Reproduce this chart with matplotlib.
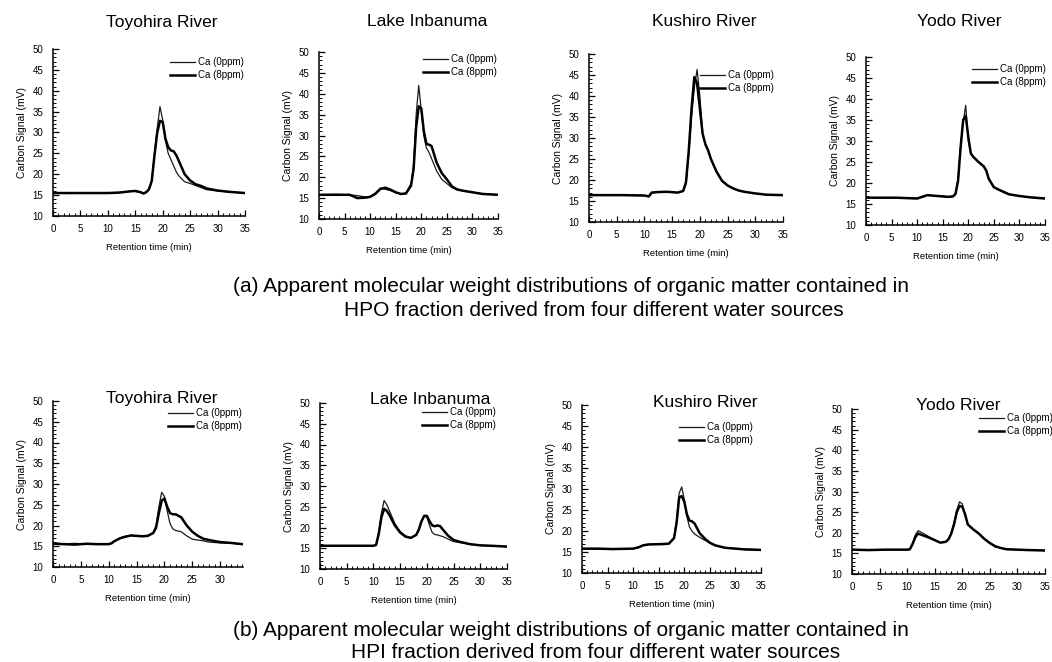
import matplotlib
matplotlib.use("Agg")
import matplotlib.pyplot as plt
from matplotlib.ticker import MultipleLocator

plt.rcParams['font.family'] = ['Liberation Sans', 'DejaVu Sans']

W, H = 1052, 662

# ---------------- data ----------------
titles = ["Toyohira River", "Lake Inbanuma", "Kushiro River", "Yodo River"]
series_labels = ["Ca (0ppm)", "Ca (8ppm)"]
caption_a = ["(a) Apparent molecular weight distributions of organic matter contained in",
             "HPO fraction derived from four different water sources"]
caption_b = ["(b) Apparent molecular weight distributions of organic matter contained in",
             "HPI fraction derived from four different water sources"]

# HPO - Toyohira
hpo_toy_x  = [0, 3, 6, 10, 12, 14, 15, 16, 16.5, 17, 17.5, 18, 18.5, 19, 19.5, 20, 20.5, 21, 21.5, 22, 22.5, 23, 24, 25, 26, 27, 28, 30, 32, 35]
hpo_toy_0  = [15.5, 15.4, 15.5, 15.5, 15.6, 15.9, 15.9, 15.6, 15.3, 15.8, 16.5, 18.6, 25.0, 31.0, 36.2, 33.0, 28.0, 25.0, 23.5, 22.0, 20.5, 19.5, 18.2, 17.8, 17.3, 16.8, 16.3, 16.0, 15.8, 15.5]
hpo_toy_8  = [15.5, 15.5, 15.5, 15.5, 15.6, 15.9, 16.0, 15.7, 15.4, 15.7, 16.4, 18.4, 24.5, 30.0, 32.8, 32.5, 28.5, 26.5, 25.7, 25.5, 24.5, 23.0, 20.0, 18.5, 17.6, 17.2, 16.6, 16.1, 15.8, 15.5]

# HPO - Lake Inbanuma
hpo_inb_x  = [0, 3, 6, 7.5, 9, 10, 11, 12, 13, 14, 15, 16, 17, 18, 18.5, 19, 19.5, 20, 20.5, 21, 21.5, 22, 22.5, 23, 24, 25, 26, 27, 28, 30, 32, 35]
hpo_inb_0  = [15.8, 15.9, 15.8, 15.6, 15.3, 15.4, 16.2, 17.4, 17.1, 16.8, 16.3, 16.0, 16.2, 18.5, 23.0, 35.0, 42.0, 36.0, 30.0, 27.0, 26.0, 24.5, 23.0, 21.5, 19.5, 18.5, 17.5, 17.0, 16.8, 16.4, 16.0, 15.8]
hpo_inb_8  = [15.8, 15.8, 15.8, 15.0, 15.1, 15.3, 16.0, 17.2, 17.5, 17.0, 16.4, 16.0, 16.1, 18.0, 22.0, 32.0, 37.0, 36.5, 31.0, 28.0, 27.8, 27.5, 25.5, 23.5, 21.0, 19.5, 17.8, 17.1, 16.8, 16.4, 16.0, 15.8]

# HPO - Kushiro
hpo_kus_x  = [0, 3, 6, 10, 10.8, 11.3, 12, 14, 16, 17, 17.5, 18, 18.5, 19, 19.5, 20, 20.5, 21, 21.5, 22, 23, 24, 25, 26, 27, 28, 30, 32, 35]
hpo_kus_0  = [16.4, 16.5, 16.4, 16.3, 16.0, 16.8, 17.0, 17.2, 17.0, 17.3, 19.0, 26.0, 35.0, 42.0, 46.3, 40.0, 31.0, 28.5, 27.0, 25.0, 22.0, 19.8, 18.7, 18.0, 17.5, 17.2, 16.8, 16.5, 16.4]
hpo_kus_8  = [16.4, 16.4, 16.4, 16.3, 16.1, 17.0, 17.1, 17.2, 17.0, 17.4, 19.5, 27.0, 37.0, 44.5, 43.0, 37.0, 31.0, 28.5, 27.0, 25.0, 22.0, 19.8, 18.7, 18.0, 17.5, 17.2, 16.8, 16.5, 16.4]

# HPO - Yodo
hpo_yod_x  = [0, 3, 6, 10, 11, 12, 13, 15, 16, 17, 17.5, 18, 18.5, 19, 19.5, 20, 20.5, 21, 22, 23, 23.5, 24, 25, 26, 27, 28, 30, 32, 35]
hpo_yod_0  = [16.5, 16.5, 16.4, 16.4, 16.8, 17.2, 17.0, 16.9, 16.7, 16.8, 17.5, 21.0, 29.0, 34.5, 38.5, 30.0, 27.0, 26.2, 25.0, 24.0, 23.0, 21.0, 19.0, 18.3, 18.0, 17.3, 16.9, 16.6, 16.4]
hpo_yod_8  = [16.5, 16.5, 16.5, 16.3, 16.7, 17.1, 17.0, 16.8, 16.7, 16.8, 17.4, 20.5, 28.5, 35.0, 36.0, 31.0, 27.0, 26.2, 25.0, 24.0, 23.0, 21.0, 19.0, 18.4, 17.8, 17.3, 16.9, 16.6, 16.3]

# HPI - Toyohira
hpi_toy_x  = [0, 2, 4, 6, 8, 10, 10.5, 11, 12, 13, 14, 15, 16, 17, 18, 18.5, 19, 19.5, 20, 20.5, 21, 21.5, 22, 23, 24, 25, 26, 27, 28, 30, 32, 34]
hpi_toy_0  = [15.8, 15.6, 15.7, 15.5, 15.6, 15.6, 15.8, 16.3, 17.0, 17.4, 17.6, 17.5, 17.4, 17.5, 18.3, 20.0, 24.5, 28.0, 27.0, 23.5, 20.5, 19.2, 18.8, 18.5, 17.5, 16.7, 16.5, 16.3, 16.0, 15.8, 15.7, 15.5]
hpi_toy_8  = [15.6, 15.5, 15.4, 15.6, 15.5, 15.5, 15.7, 16.2, 16.9, 17.3, 17.6, 17.5, 17.4, 17.5, 18.2, 19.5, 23.0, 26.0, 26.5, 24.5, 23.0, 22.7, 22.7, 22.0, 20.0, 18.5, 17.5, 16.8, 16.5, 16.0, 15.8, 15.5]

# HPI - Lake Inbanuma
hpi_inb_x  = [0, 3, 6, 9, 10, 10.5, 11, 11.5, 12, 12.5, 13, 14, 15, 16, 17, 18, 18.5, 19, 19.5, 20, 20.5, 21, 21.5, 22, 22.5, 23, 24, 25, 26, 28, 30, 32, 35]
hpi_inb_0  = [15.6, 15.6, 15.6, 15.6, 15.6, 15.8, 19.0, 23.5, 26.5, 25.5, 24.0, 21.0, 19.0, 18.0, 17.5, 18.2, 19.5, 21.5, 22.8, 22.5, 20.5, 18.8, 18.3, 18.2, 18.0, 17.8, 17.2, 16.6, 16.4, 16.0, 15.7, 15.6, 15.4]
hpi_inb_8  = [15.6, 15.6, 15.6, 15.6, 15.6, 15.8, 18.5, 22.5, 24.5, 24.0, 23.0, 20.5, 18.8, 17.8, 17.5, 18.2, 19.5, 21.5, 22.8, 22.8, 21.5, 20.5, 20.3, 20.5, 20.3, 19.5, 18.0, 17.0, 16.6, 16.0, 15.7, 15.6, 15.4]

# HPI - Kushiro
hpi_kus_x  = [0, 3, 6, 10, 11, 12, 13, 16, 17, 18, 18.5, 19, 19.5, 20, 20.5, 21, 21.5, 22, 23, 24, 25, 26, 28, 30, 32, 35]
hpi_kus_0  = [15.8, 15.7, 15.8, 15.8, 16.0, 16.7, 16.8, 16.8, 17.0, 18.5, 22.5, 29.0, 30.5, 27.5, 23.5, 21.0, 20.0, 19.3, 18.5, 17.8, 17.2, 16.6, 16.0, 15.8, 15.7, 15.5]
hpi_kus_8  = [15.8, 15.8, 15.7, 15.8, 16.1, 16.6, 16.8, 16.9, 17.0, 18.3, 22.0, 28.0, 28.3, 27.0, 24.0, 22.5, 22.3, 21.8, 19.5, 18.2, 17.2, 16.6, 16.0, 15.8, 15.6, 15.5]

# HPI - Yodo
hpi_yod_x  = [0, 3, 6, 10, 10.5, 11, 11.5, 12, 13, 14, 15, 16, 17, 17.5, 18, 18.5, 19, 19.5, 20, 20.5, 21, 22, 23, 24, 25, 26, 27, 28, 30, 32, 35]
hpi_yod_0  = [15.9, 15.9, 15.9, 15.9, 16.0, 17.5, 19.5, 20.5, 19.8, 19.0, 18.3, 17.6, 17.8, 18.5, 20.0, 22.5, 25.5, 27.5, 27.0, 24.5, 22.0, 20.8, 19.8, 18.5, 17.5, 16.6, 16.3, 16.0, 15.9, 15.8, 15.7]
hpi_yod_8  = [15.9, 15.8, 15.9, 15.9, 16.0, 17.3, 19.0, 19.8, 19.3, 18.8, 18.2, 17.6, 17.8, 18.4, 19.8, 22.0, 25.0, 26.5, 26.3, 24.5, 22.0, 20.8, 19.8, 18.5, 17.5, 16.7, 16.3, 16.0, 15.9, 15.8, 15.7]

panels = [
    (hpo_toy_x, hpo_toy_0, hpo_toy_8), (hpo_inb_x, hpo_inb_0, hpo_inb_8),
    (hpo_kus_x, hpo_kus_0, hpo_kus_8), (hpo_yod_x, hpo_yod_0, hpo_yod_8),
    (hpi_toy_x, hpi_toy_0, hpi_toy_8), (hpi_inb_x, hpi_inb_0, hpi_inb_8),
    (hpi_kus_x, hpi_kus_0, hpi_kus_8), (hpi_yod_x, hpi_yod_0, hpi_yod_8),
]

# ---------------- layout (pixels) ----------------
# (left, top, right, bottom, xmax)
boxes = [
    (53, 49, 245, 216, 35), (319, 52, 498, 219, 35), (589, 54, 783, 222, 35), (866, 57, 1045, 225, 35),
    (53, 401, 243, 567, 34.1), (320, 403, 507, 569, 35), (582, 405, 761, 573, 35), (852, 409, 1045, 574, 35),
]
legend_pos = [(170, 57), (423, 54), (700, 70), (972, 64),
              (168, 408), (422, 407), (679, 422), (979, 413)]
title_pos = [(162, 22), (427, 22), (704, 22), (959, 22),
             (162, 398), (430, 400), (705, 402), (958, 405)]

fig = plt.figure(figsize=(W / 100, H / 100), dpi=100)

for i, ((x, y0, y8), (l, t, r, b, xmax)) in enumerate(zip(panels, boxes)):
    ax = fig.add_axes([l / W, 1 - b / H, (r - l) / W, (b - t) / H])
    ax.plot(x, y0, color='#1a1a1a', lw=0.9, label=series_labels[0])
    ax.plot(x, y8, color='black', lw=1.8, label=series_labels[1])
    ax.set_xlim(0, xmax)
    ax.set_ylim(10, 50)
    ax.xaxis.set_major_locator(MultipleLocator(5))
    ax.xaxis.set_minor_locator(MultipleLocator(1))
    ax.yaxis.set_major_locator(MultipleLocator(5))
    ax.yaxis.set_minor_locator(MultipleLocator(1))
    for s in ['top', 'right']:
        ax.spines[s].set_visible(False)
    for s in ['left', 'bottom']:
        ax.spines[s].set_linewidth(1.1)
    ax.tick_params(which='major', direction='in', length=4.5, width=0.9, labelsize=7)
    ax.tick_params(axis='x', which='major', pad=6)
    ax.tick_params(axis='y', which='major', pad=7)
    ax.tick_params(which='minor', direction='in', length=2.5, width=0.7)
    ax.set_xlabel("Retention time (min)", fontsize=6.8, labelpad=6)
    ax.set_ylabel("Carbon Signal (mV)", fontsize=7.5, labelpad=4)
    lx, ly = legend_pos[i]
    ax.legend(loc='upper left', bbox_to_anchor=(lx / W, 1 - ly / H), bbox_transform=fig.transFigure,
              frameon=False, fontsize=7, borderpad=0, borderaxespad=0, handlelength=2.6,
              handletextpad=0.25, labelspacing=0.3)
    tx, ty = title_pos[i]
    fig.text(tx / W, 1 - ty / H, titles[i % 4], fontsize=12.5, ha='center', va='center')

fig.text(571 / W, 1 - 287 / H, caption_a[0], fontsize=15, ha='center', va='center')
fig.text(594 / W, 1 - 311 / H, caption_a[1], fontsize=15, ha='center', va='center')
fig.text(571 / W, 1 - 630 / H, caption_b[0], fontsize=15, ha='center', va='center')
fig.text(596 / W, 1 - 652 / H, caption_b[1], fontsize=15, ha='center', va='center')

fig.savefig("out.png", dpi=100)
